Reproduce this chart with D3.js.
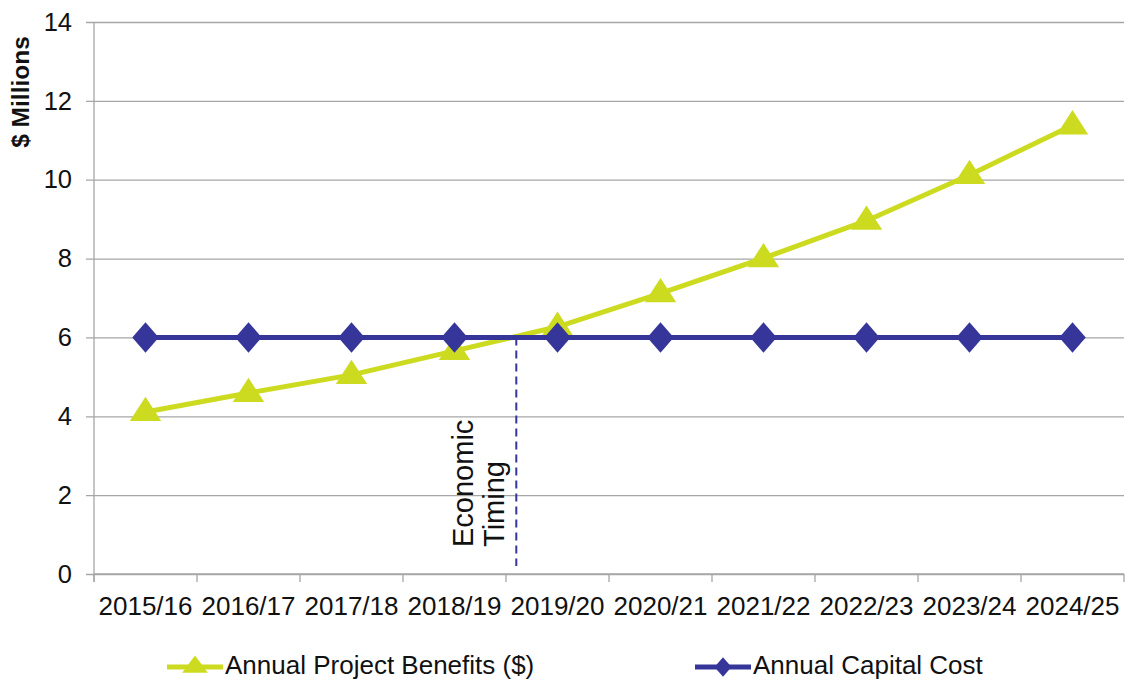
<!DOCTYPE html>
<html>
<head>
<meta charset="utf-8">
<script src="https://cdn.jsdelivr.net/npm/d3@7"></script>
<style>
  body { margin: 0; background: #fff; }
  svg { display: block; font-family: "Liberation Sans", Arial, sans-serif; }
</style>
</head>
<body>
<svg id="chart" width="1125" height="680"></svg>
<script>
const categories = ["2015/16","2016/17","2017/18","2018/19","2019/20","2020/21","2021/22","2022/23","2023/24","2024/25"];
const benefits = [4.11, 4.59, 5.05, 5.66, 6.27, 7.12, 8.01, 8.96, 10.12, 11.38];
const capitalCost = [6, 6, 6, 6, 6, 6, 6, 6, 6, 6];
const yTicks = [0, 2, 4, 6, 8, 10, 12, 14];
const economicTimingIndex = 3.6; // position between 2018/19 and 2019/20
const seriesNames = ["Annual Project Benefits ($)", "Annual Capital Cost"];

const green = "#cddb20", blue = "#35359a", grid = "#a6a6a6";
const svg = d3.select("#chart");
const mL = 94, mR = 1124, mT = 22, mB = 574;

const x = d3.scaleBand().domain(categories).range([mL, mR]).padding(0);
const xi = d3.scaleLinear().domain([0, categories.length - 1])
  .range([x(categories[0]) + x.bandwidth()/2, x(categories[categories.length-1]) + x.bandwidth()/2]);
const y = d3.scaleLinear().domain([0, 14]).range([mB, mT]);

// gridlines + y axis
const yAxis = d3.axisLeft(y).tickValues(yTicks).tickSize(-(mR - mL)).tickSizeOuter(0).tickPadding(14);
const gy = svg.append("g").attr("transform", `translate(${mL},0)`).call(yAxis);
gy.select(".domain").remove();
gy.selectAll(".tick line").attr("stroke", grid).attr("stroke-width", 1.3).attr("x1", -8);
gy.selectAll(".tick text").attr("font-size", 25.5).attr("fill", "#111").attr("x", -22);

// y axis line
svg.append("line").attr("x1", mL).attr("x2", mL).attr("y1", mT).attr("y2", mB + 8)
  .attr("stroke", grid).attr("stroke-width", 1.3);

// x axis
const gx = svg.append("g").attr("transform", `translate(0,${mB})`);
gx.append("line").attr("x1", mL).attr("x2", mR).attr("y1", 0).attr("y2", 0).attr("stroke", grid).attr("stroke-width", 1.3);
const boundaries = categories.map(c => x(c)).concat([x(categories[categories.length-1]) + x.bandwidth()]);
gx.selectAll("line.tk").data(boundaries).join("line").attr("class","tk")
  .attr("x1", d => d).attr("x2", d => d).attr("y1", 0).attr("y2", 8).attr("stroke", grid).attr("stroke-width", 1.3);
gx.selectAll("text").data(categories).join("text")
  .attr("x", d => x(d) + x.bandwidth()/2).attr("y", 41)
  .attr("text-anchor", "middle").attr("font-size", 26).attr("fill", "#111")
  .text(d => d);

// y label
svg.append("text").attr("transform", "translate(29,92) rotate(-90)")
  .attr("text-anchor", "middle").attr("font-size", 24.5).attr("font-weight", "bold").attr("fill", "#111")
  .text("$ Millions");

// economic timing dashed line
svg.append("line").attr("x1", xi(economicTimingIndex)).attr("x2", xi(economicTimingIndex))
  .attr("y1", y(6)).attr("y2", mB - 8)
  .attr("stroke", blue).attr("stroke-width", 2).attr("stroke-dasharray", "8,5");
const et = svg.append("text").attr("transform", `translate(${xi(economicTimingIndex) - 43},547) rotate(-90)`)
  .attr("font-size", 29).attr("fill", "#111");
et.append("tspan").attr("x", 0).attr("dy", 0).text("Economic");
et.append("tspan").attr("x", 0).attr("dy", 31).text("Timing");

const line = d3.line().x((d, i) => xi(i)).y(d => y(d));
const tri = d3.symbol().type(d3.symbolTriangle);
const dia = d3.symbol().type(d3.symbolDiamond);

// benefits
svg.append("path").datum(benefits).attr("d", line).attr("fill", "none").attr("stroke", green).attr("stroke-width", 5);
svg.selectAll("path.tri").data(benefits).join("path").attr("class", "tri")
  .attr("d", tri.size(340)()).attr("fill", green)
  .attr("transform", (d, i) => `translate(${xi(i)},${y(d) + 1}) scale(1.12,1)`);

// capital cost
svg.append("path").datum(capitalCost).attr("d", line).attr("fill", "none").attr("stroke", blue).attr("stroke-width", 5);
svg.selectAll("path.dia").data(capitalCost).join("path").attr("class", "dia")
  .attr("d", dia.size(270)()).attr("fill", blue)
  .attr("transform", (d, i) => `translate(${xi(i)},${y(d)}) scale(1.5,1)`);

// legend
const legendItems = [
  {name: seriesNames[0], color: green, sym: tri.size(170)(), x0: 167, sx: 1.3},
  {name: seriesNames[1], color: blue, sym: dia.size(110)(), x0: 695, sx: 1.5}
];
const lg = svg.selectAll("g.lg").data(legendItems).join("g").attr("class", "lg")
  .attr("transform", d => `translate(${d.x0},667)`);
lg.append("line").attr("x1", 0).attr("x2", 56).attr("y1", 0).attr("y2", 0)
  .attr("stroke", d => d.color).attr("stroke-width", 5);
lg.append("path").attr("d", d => d.sym).attr("fill", d => d.color)
  .attr("transform", d => `translate(28,0) scale(${d.sx},1)`);
lg.append("text").attr("x", 58).attr("y", 7).attr("font-size", 26).attr("fill", "#111")
  .text(d => d.name);
</script>
</body>
</html>
